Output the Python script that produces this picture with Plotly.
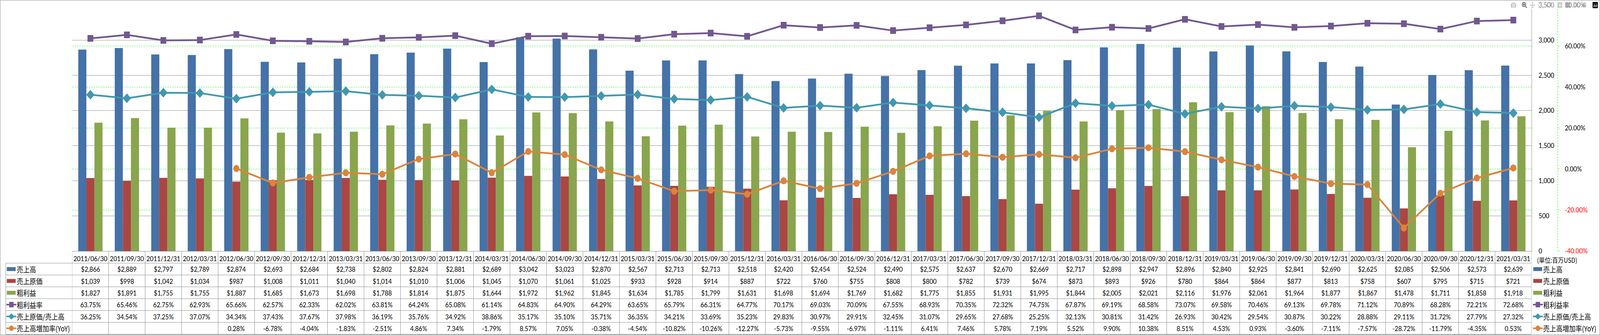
import plotly.graph_objects as go

# ---------------- data ----------------
dates = ["2011/06/30", "2011/09/30", "2011/12/31", "2012/03/31", "2012/06/30", "2012/09/30",
         "2012/12/31", "2013/03/31", "2013/06/30", "2013/09/30", "2013/12/31", "2014/03/31",
         "2014/06/30", "2014/09/30", "2014/12/31", "2015/03/31", "2015/06/30", "2015/09/30",
         "2015/12/31", "2016/03/31", "2016/06/30", "2016/09/30", "2016/12/31", "2017/03/31",
         "2017/06/30", "2017/09/30", "2017/12/31", "2018/03/31", "2018/06/30", "2018/09/30",
         "2018/12/31", "2019/03/31", "2019/06/30", "2019/09/30", "2019/12/31", "2020/03/31",
         "2020/06/30", "2020/09/30", "2020/12/31", "2021/03/31"]

sales = [2866, 2889, 2797, 2789, 2874, 2693, 2684, 2738, 2802, 2824, 2881, 2689, 3042, 3023,
         2870, 2567, 2713, 2713, 2518, 2420, 2454, 2524, 2490, 2575, 2637, 2670, 2669, 2717,
         2898, 2947, 2896, 2840, 2925, 2841, 2690, 2625, 2085, 2506, 2573, 2639]

cogs = [1039, 998, 1042, 1034, 987, 1008, 1011, 1040, 1014, 1010, 1006, 1045, 1070, 1061,
        1025, 933, 928, 914, 887, 722, 760, 755, 808, 800, 782, 739, 674, 873,
        893, 926, 780, 864, 864, 877, 813, 758, 607, 795, 715, 721]

gross = [1827, 1891, 1755, 1755, 1887, 1685, 1673, 1698, 1788, 1814, 1875, 1644, 1972, 1962,
         1845, 1634, 1785, 1799, 1631, 1698, 1694, 1769, 1682, 1775, 1855, 1931, 1995, 1844,
         2005, 2021, 2116, 1976, 2061, 1964, 1877, 1867, 1478, 1711, 1858, 1918]

gm_rate = [63.75, 65.46, 62.75, 62.93, 65.66, 62.57, 62.33, 62.02, 63.81, 64.24, 65.08, 61.14,
           64.83, 64.90, 64.29, 63.65, 65.79, 66.31, 64.77, 70.17, 69.03, 70.09, 67.55, 68.93,
           70.35, 72.32, 74.75, 67.87, 69.19, 68.58, 73.07, 69.58, 70.46, 69.13, 69.78, 71.12,
           70.89, 68.28, 72.21, 72.68]

cost_ratio = [36.25, 34.54, 37.25, 37.07, 34.34, 37.43, 37.67, 37.98, 36.19, 35.76, 34.92, 38.86,
              35.17, 35.10, 35.71, 36.35, 34.21, 33.69, 35.23, 29.83, 30.97, 29.91, 32.45, 31.07,
              29.65, 27.68, 25.25, 32.13, 30.81, 31.42, 26.93, 30.42, 29.54, 30.87, 30.22, 28.88,
              29.11, 31.72, 27.79, 27.32]

yoy = [None, None, None, None, 0.28, -6.78, -4.04, -1.83, -2.51, 4.86, 7.34, -1.79,
       8.57, 7.05, -0.38, -4.54, -10.82, -10.26, -12.27, -5.73, -9.55, -6.97, -1.11, 6.41,
       7.46, 5.78, 7.19, 5.52, 9.90, 10.38, 8.51, 4.53, 0.93, -3.60, -7.11, -7.57,
       -28.72, -11.79, -4.35, 0.53]

series_names = ["売上高", "売上原価", "粗利益", "粗利益率", "売上原価/売上高", "売上高増加率(YoY)"]
colors = ["#4572A7", "#AA4643", "#89A54E", "#71588F", "#4198AF", "#DB843D"]

y1_ticks = [0, 500, 1000, 1500, 2000, 2500, 3000, 3500]
y2_ticks = [-40, -20, 0, 20, 40, 60, 80]
unit_label = "(単位:百万USD)"

# ---------------- geometry (pixels) ----------------
W, H = 4701, 858
PL, PR, PT, PB = 212, 4500, 13, 643
TAB_LEFT = 17
HDR_BOT = 674
TAB_BOT = 856
ROW_H = (TAB_BOT - HDR_BOT) / 6
AX2_X = 4577

LATIN = "Lato, 'Noto Sans', sans-serif"
CJK = "'Noto Sans CJK JP', 'Noto Sans', sans-serif"
GRAY = "#868686"
GREEN = "#00FF00"


def px(x):
    return x / W


def py(y):
    return (H - y) / H


fig = go.Figure()

for name, vals, col in zip(series_names[:3], [sales, cogs, gross], colors[:3]):
    fig.add_trace(go.Bar(x=dates, y=vals, name=name, marker=dict(color=col, line=dict(width=0))))

line_sets = [(gm_rate, "square", 17), (cost_ratio, "diamond", 19), (yoy, "circle", 18)]
for name, (vals, sym, sz), col in zip(series_names[3:], line_sets, colors[3:]):
    fig.add_trace(go.Scatter(x=dates, y=vals, name=name, yaxis="y2", mode="lines+markers",
                             line=dict(color=col, width=4.5),
                             marker=dict(symbol=sym, size=sz, color=col),
                             connectgaps=False))

shapes = []
annotations = []

# outer frame
shapes.append(dict(type="rect", xref="paper", yref="paper", x0=px(0.5), x1=px(4700.5),
                   y0=py(857.5), y1=py(0.5), line=dict(color=GRAY, width=1)))
# secondary axis dashed line
shapes.append(dict(type="line", xref="paper", yref="paper", x0=px(AX2_X), x1=px(AX2_X),
                   y0=py(PB), y1=py(PT), line=dict(color=GREEN, width=1, dash="4px,3px")))

# table horizontal lines
for k in range(7):
    yy = HDR_BOT + k * ROW_H
    shapes.append(dict(type="line", xref="paper", yref="paper", x0=px(TAB_LEFT), x1=px(PR),
                       y0=py(yy), y1=py(yy), line=dict(color=GRAY, width=1)))
# table vertical lines (category boundaries)
for i in range(len(dates) + 1):
    shapes.append(dict(type="line", xref="x", yref="paper", x0=i - 0.5, x1=i - 0.5,
                       y0=py(TAB_BOT), y1=py(PB), line=dict(color=GRAY, width=1)))
shapes.append(dict(type="line", xref="paper", yref="paper", x0=px(TAB_LEFT), x1=px(TAB_LEFT),
                   y0=py(TAB_BOT), y1=py(HDR_BOT), line=dict(color=GRAY, width=1)))


def fmt_money(v):
    return "${:,}".format(v)


def fmt_pct(v):
    return "" if v is None else "{:.2f}%".format(v)


rows = [[fmt_money(v) for v in sales], [fmt_money(v) for v in cogs], [fmt_money(v) for v in gross],
        [fmt_pct(v) for v in gm_rate], [fmt_pct(v) for v in cost_ratio], [fmt_pct(v) for v in yoy]]

for r, row in enumerate(rows):
    yc = HDR_BOT + (r + 0.5) * ROW_H
    for d, txt in zip(dates, row):
        if txt:
            annotations.append(dict(x=d, xref="x", y=py(yc), yref="paper", text=txt,
                                    showarrow=False, xanchor="center", yanchor="middle",
                                    font=dict(family=LATIN, size=18, color="#000000")))


def legend_key(x0, yc, idx):
    col = colors[idx]
    if idx < 3:
        shapes.append(dict(type="rect", xref="paper", yref="paper", x0=px(x0), x1=px(x0 + 26),
                           y0=py(yc + 5), y1=py(yc - 5), fillcolor=col, line=dict(width=0)))
    else:
        shapes.append(dict(type="line", xref="paper", yref="paper", x0=px(x0 - 1), x1=px(x0 + 28),
                           y0=py(yc), y1=py(yc), line=dict(color=col, width=4)))
        cx = x0 + 13.5
        if idx == 3:
            shapes.append(dict(type="rect", xref="paper", yref="paper", x0=px(cx - 6.5),
                               x1=px(cx + 6.5), y0=py(yc + 7), y1=py(yc - 7), fillcolor=col,
                               line=dict(width=0)))
        elif idx == 4:
            path = "M {} {} L {} {} L {} {} L {} {} Z".format(
                px(cx - 9), py(yc), px(cx), py(yc - 8), px(cx + 9), py(yc), px(cx), py(yc + 8))
            shapes.append(dict(type="path", xref="paper", yref="paper", path=path,
                               fillcolor=col, line=dict(width=0)))
        else:
            shapes.append(dict(type="circle", xref="paper", yref="paper", x0=px(cx - 7),
                               x1=px(cx + 7), y0=py(yc + 7), y1=py(yc - 7), fillcolor=col,
                               line=dict(width=0)))


for r, name in enumerate(series_names):
    yc = HDR_BOT + (r + 0.5) * ROW_H
    # table row header
    legend_key(20, yc, r)
    annotations.append(dict(x=px(47), xref="paper", y=py(yc), yref="paper", text=name,
                            showarrow=False, xanchor="left", yanchor="middle",
                            font=dict(family=CJK, size=19, color="#000000")))
    # right-hand legend
    legend_key(4505, yc, r)
    annotations.append(dict(x=px(4532), xref="paper", y=py(yc), yref="paper", text=name,
                            showarrow=False, xanchor="left", yanchor="middle",
                            font=dict(family=CJK, size=19, color="#000000")))

annotations.append(dict(x=px(4514), xref="paper", y=py(665), yref="paper", text=unit_label,
                        showarrow=False, xanchor="left", yanchor="middle",
                        font=dict(family=CJK, size=17, color="#000000")))

y2_text = []
for v in y2_ticks:
    s = "{:.2f}%".format(v)
    y2_text.append("<span style='color:#FF0000'>" + s + "</span>" if v < 0 else s)

fig.update_layout(
    width=W, height=H, autosize=False,
    margin=dict(l=0, r=0, t=0, b=0, pad=0),
    paper_bgcolor="white", plot_bgcolor="white",
    barmode="group", bargap=0.335, bargroupgap=0,
    showlegend=False,
    font=dict(family=LATIN, size=18, color="#000000"),
    xaxis=dict(domain=[px(PL), px(PR)], type="category", range=[-0.5, len(dates) - 0.5],
               showgrid=False, showline=True, linecolor=GRAY, linewidth=1, ticks="",
               tickfont=dict(family=LATIN, size=18, color="#000000"), automargin=False,
               ticklabelstandoff=3, zeroline=False, fixedrange=True),
    yaxis=dict(domain=[py(PB), py(PT)], range=[0, 3500], tickvals=y1_ticks,
               tickprefix="$", tickformat=",", side="right", showgrid=True, gridcolor=GRAY,
               gridwidth=1, showline=True, linecolor=GRAY, linewidth=1, ticks="",
               zeroline=False, automargin=False, ticklabelstandoff=16,
               tickfont=dict(family=LATIN, size=18, color="#000000")),
    yaxis2=dict(overlaying="y", anchor="free", position=px(AX2_X), side="right",
                range=[-40, 80], tickvals=y2_ticks, ticktext=y2_text, showgrid=True,
                gridcolor=GREEN, griddash="4px,3px", gridwidth=1, showline=False,
                ticks="outside", ticklen=4, tickcolor=GREEN, zeroline=False,
                automargin=False, ticklabelstandoff=12,
                tickfont=dict(family=LATIN, size=18, color="#000000")),
    shapes=shapes,
    annotations=annotations,
)

# keep the whole 4701px-wide figure visible even if the actual viewport is narrower
fit_js = """
(function(){
  document.documentElement.style.margin='0';
  document.body.style.margin='0';
  document.body.style.overflow='hidden';
  var gd = document.getElementById('{plot_id}');
  var vw = window.innerWidth || document.documentElement.clientWidth;
  var s = Math.min(1, vw / %d);
  gd.style.transformOrigin = '0 0';
  gd.style.transform = 'scale(' + s + ',1)';
})();
""" % W

fig.write_html("out.html", post_script=fit_js)
